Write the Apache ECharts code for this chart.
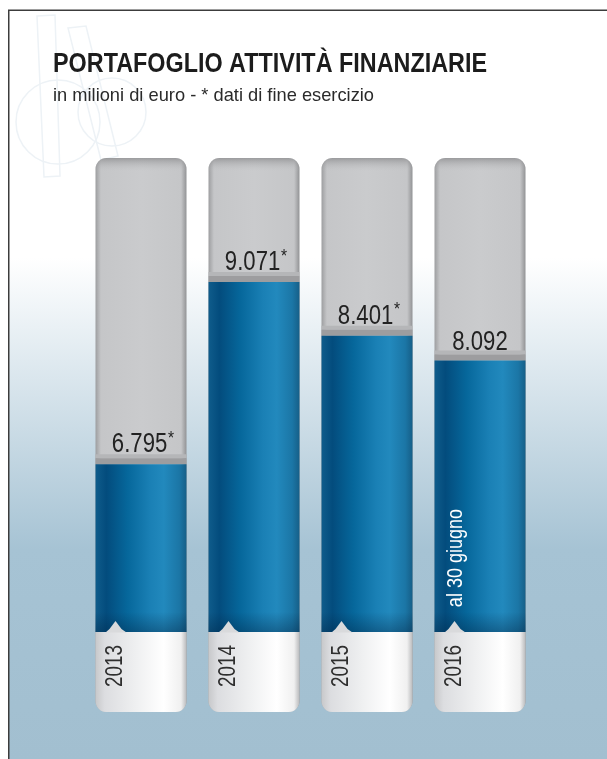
<!DOCTYPE html>
<html>
<head>
<meta charset="utf-8">
<style>
  html, body { margin: 0; padding: 0; background: #ffffff; }
  #chart { width: 607px; height: 759px; }
</style>
<script src="https://cdn.jsdelivr.net/npm/echarts@6/dist/echarts.min.js"></script>
</head>
<body>
<div id="chart"></div>
<script>
// Portfolio of financial assets, millions of euro
const years = ['2013', '2014', '2015', '2016'];
const values = [6795, 9071, 8401, 8092];
const yearEnd = [true, true, true, false];   // '*' = end-of-year figure
const notes = ['', '', '', 'al 30 giugno'];

const TITLE = 'PORTAFOGLIO ATTIVITÀ FINANZIARIE';
const SUBTITLE = 'in milioni di euro - * dati di fine esercizio';

// Regular sans squeezed horizontally to give a condensed look
const FONT = "'Liberation Sans', Arial, sans-serif";
const NARROW = 0.82;

function fmt(v) {
  return String(v).replace(/\B(?=(\d{3})+(?!\d))/g, '.');
}

function squeezeTo(text, font, width) {
  const ctx = document.createElement('canvas').getContext('2d');
  ctx.font = font;
  return width / ctx.measureText(text).width;
}

const chart = echarts.init(document.getElementById('chart'), null, { renderer: 'canvas' });

const BAR_W = 91;
const FOOT_H = 80;    // white foot under the baseline
const R = 11;

function renderItem(params, api) {
  const i = api.value(0);
  const v = api.value(1);
  const cs = params.coordSys;
  const top = api.coord([i, v]);
  const base = api.coord([i, api.value(2)]);
  const x = top[0] - BAR_W / 2;
  const yTop = cs.y;
  const yBase = base[1];
  const yVal = top[1];
  const children = [];

  // grey capsule (whole height)
  children.push({
    type: 'rect',
    shape: { x: x, y: yTop, width: BAR_W, height: yBase + FOOT_H - yTop, r: R },
    style: {
      fill: new echarts.graphic.LinearGradient(0, 0, 1, 0, [
        { offset: 0, color: '#9d9ea0' },
        { offset: 0.06, color: '#c5c6c8' },
        { offset: 0.5, color: '#cacbcd' },
        { offset: 0.94, color: '#c5c6c8' },
        { offset: 1, color: '#929395' }
      ])
    }
  });
  // top shading of capsule
  children.push({
    type: 'rect',
    shape: { x: x, y: yTop, width: BAR_W, height: 14, r: [R, R, 0, 0] },
    style: {
      fill: new echarts.graphic.LinearGradient(0, 0, 0, 1, [
        { offset: 0, color: 'rgba(110,110,112,0.5)' },
        { offset: 1, color: 'rgba(200,201,203,0)' }
      ])
    }
  });
  // separator band above the value
  children.push({
    type: 'rect',
    shape: { x: x, y: yVal - 10, width: BAR_W, height: 4 },
    style: { fill: '#b5b6b8' }
  });
  children.push({
    type: 'rect',
    shape: { x: x, y: yVal - 6, width: BAR_W, height: 6 },
    style: { fill: '#9d9d9f' }
  });
  // blue value column
  children.push({
    type: 'rect',
    shape: { x: x, y: yVal, width: BAR_W, height: yBase - yVal },
    style: {
      fill: new echarts.graphic.LinearGradient(0, 0, 1, 0, [
        { offset: 0, color: '#0f5c8b' },
        { offset: 0.12, color: '#034c7d' },
        { offset: 0.35, color: '#06679b' },
        { offset: 0.6, color: '#1a80b5' },
        { offset: 0.75, color: '#2289bd' },
        { offset: 0.92, color: '#1b76a6' },
        { offset: 1, color: '#165f88' }
      ])
    }
  });
  // darker shading at the foot of the blue column
  children.push({
    type: 'rect',
    shape: { x: x, y: yBase - 20, width: BAR_W, height: 20 },
    style: {
      fill: new echarts.graphic.LinearGradient(0, 0, 0, 1, [
        { offset: 0, color: 'rgba(0,30,60,0)' },
        { offset: 1, color: 'rgba(0,30,60,0.35)' }
      ])
    }
  });
  // white foot
  const footFill = new echarts.graphic.LinearGradient(0, 0, 1, 0, [
    { offset: 0, color: '#c7c8ca' },
    { offset: 0.1, color: '#dcdde0' },
    { offset: 0.45, color: '#eff0f1' },
    { offset: 0.75, color: '#ffffff' },
    { offset: 0.94, color: '#f0f0f0' },
    { offset: 1, color: '#b9babc' }
  ]);
  children.push({
    type: 'rect',
    shape: { x: x, y: yBase, width: BAR_W, height: FOOT_H, r: [0, 0, R, R] },
    style: { fill: footFill }
  });
  // notch pointing up into the column
  children.push({
    type: 'polygon',
    shape: { points: [[x + 10, yBase + 0.5], [x + 14, yBase - 3], [x + 20, yBase - 11], [x + 26, yBase - 3], [x + 31, yBase + 0.5]] },
    style: { fill: '#d9dadc' }
  });
  // year label, reading upwards
  children.push({
    type: 'text',
    x: x + 20, y: yBase + 34,
    rotation: Math.PI / 2,
    scaleX: NARROW,
    style: {
      text: years[i],
      font: '23px ' + FONT,
      fill: '#2f2f2f',
      align: 'center',
      verticalAlign: 'middle'
    }
  });
  // optional note inside the blue column
  if (notes[i]) {
    children.push({
      type: 'text',
      x: x + 21, y: yBase - 74,
      rotation: Math.PI / 2,
      scaleX: NARROW,
      style: {
        text: notes[i],
        font: '22px ' + FONT,
        fill: '#ffffff',
        align: 'center',
        verticalAlign: 'middle'
      }
    });
  }
  // value label
  children.push({
    type: 'text',
    x: top[0] + (yearEnd[i] ? 2 : 0), y: yVal - 4,
    scaleX: NARROW,
    style: {
      text: '{v|' + fmt(v) + '}' + (yearEnd[i] ? '{a|*}' : ''),
      align: 'center',
      verticalAlign: 'bottom',
      rich: {
        v: { font: '27px ' + FONT, fill: '#222222', height: 28 },
        a: { font: '19px ' + FONT, fill: '#222222', verticalAlign: 'top', padding: [0, 0, 12, 1] }
      }
    }
  });
  return { type: 'group', children: children };
}

const MIN_V = 4700;

const titleFont = 'bold 27px ' + FONT;
const subFont = '19px ' + FONT;

chart.setOption({
  animation: false,
  backgroundColor: '#ffffff',
  graphic: [
    // panel background
    {
      type: 'rect', z: -10, silent: true,
      shape: { x: 9, y: 11, width: 598, height: 748 },
      style: {
        fill: new echarts.graphic.LinearGradient(0, 0, 0, 1, [
          { offset: 0, color: '#ffffff' },
          { offset: 0.33, color: '#ffffff' },
          { offset: 0.72, color: '#a6c3d4' },
          { offset: 1, color: '#a2bfd0' }
        ])
      }
    },
    // faint logo outline
    {
      type: 'group', z: -9, silent: true,
      children: [
        { type: 'polygon', shape: { points: [[37, 16], [55, 15], [60, 176], [44, 177]] }, style: { fill: null, stroke: '#edf2f6', lineWidth: 1.5 } },
        { type: 'polygon', shape: { points: [[68, 28], [86, 26], [118, 156], [101, 160]] }, style: { fill: null, stroke: '#edf2f6', lineWidth: 1.5 } },
        { type: 'circle', shape: { cx: 58, cy: 122, r: 42 }, style: { fill: null, stroke: '#edf2f6', lineWidth: 1.5 } },
        { type: 'circle', shape: { cx: 112, cy: 112, r: 34 }, style: { fill: null, stroke: '#edf2f6', lineWidth: 1.5 } }
      ]
    },
    // frame
    { type: 'polyline', z: 5, silent: true, shape: { points: [[8.75, 759], [8.75, 10.25], [607, 10.25]] }, style: { stroke: '#3c3c3c', lineWidth: 1.5, fill: null } },
    // title and subtitle
    { type: 'text', z: 5, x: 53, y: 51, scaleX: squeezeTo(TITLE, titleFont, 434), style: { text: TITLE, font: titleFont, fill: '#1c1c1c', align: 'left', verticalAlign: 'top' } },
    { type: 'text', z: 5, x: 53, y: 86, scaleX: squeezeTo(SUBTITLE, subFont, 321), style: { text: SUBTITLE, font: subFont, fill: '#2a2a2a', align: 'left', verticalAlign: 'top' } }
  ],
  grid: { left: 84.5, width: 452, top: 158, height: 474 },
  xAxis: { type: 'category', data: years, show: false },
  yAxis: { type: 'value', min: MIN_V, max: 10620, show: false },
  series: [{
    type: 'custom',
    renderItem: renderItem,
    clip: false,
    encode: { x: 0, y: 1 },
    data: values.map((v, i) => [i, v, MIN_V])
  }]
});
</script>
</body>
</html>
